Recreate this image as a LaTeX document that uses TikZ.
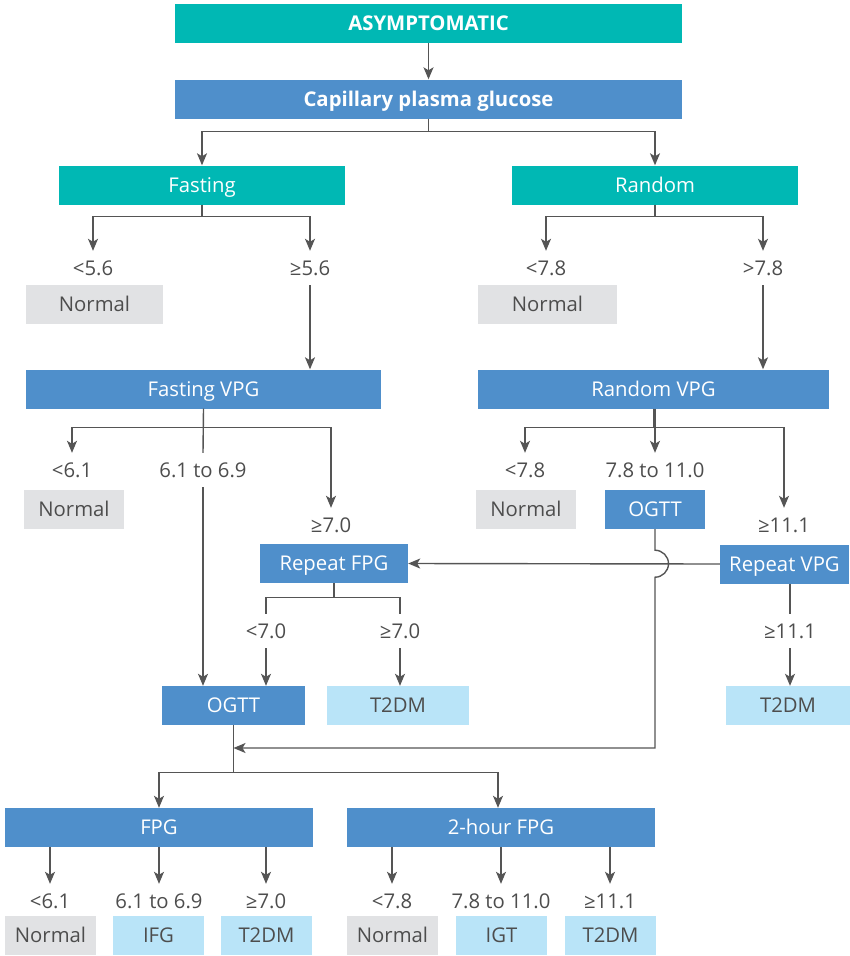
\documentclass[tikz,border=0pt]{standalone}
\usepackage{fontspec}
\setmainfont{Open Sans}
\usetikzlibrary{arrows.meta}
\definecolor{teal1}{HTML}{00B8B4}
\definecolor{blue1}{HTML}{4F8FCB}
\definecolor{grey1}{HTML}{E1E2E4}
\definecolor{lblue}{HTML}{B9E4F8}
\definecolor{txt}{HTML}{4D4D4D}
\definecolor{ln}{HTML}{555555}
\begin{document}
\begin{tikzpicture}[x=1pt,y=-1pt,
  every node/.style={font=\fontsize{20.3}{22}\selectfont, inner sep=0pt},
  boxbase/.style={rectangle, minimum height=39pt, text height=14.5pt, text depth=0pt},
  tealbox/.style={boxbase, fill=teal1, text=white},
  bluebox/.style={boxbase, fill=blue1, text=white},
  greybox/.style={boxbase, fill=grey1, text=txt},
  lbbox/.style={boxbase, fill=lblue, text=txt},
  lab/.style={minimum height=34pt, text height=14.5pt, text depth=0pt, text=txt},
  conn/.style={draw=ln, line width=1.4pt},
  arr/.style={conn, -{Stealth[length=12pt,width=10pt,inset=3pt]}}]
\useasboundingbox (0,0) rectangle (849,956);
% top
\node[tealbox, minimum width=507pt, font=\fontsize{20.3}{22}\selectfont\bfseries] (asym) at (428.5,23) {ASYMPTOMATIC};
\node[bluebox, minimum width=507pt, font=\fontsize{20.3}{22}\selectfont\bfseries] (cap) at (428.5,99) {Capillary plasma glucose};
\node[tealbox, minimum width=286pt] (fast) at (202,185) {Fasting};
\node[tealbox, minimum width=286pt] (rand) at (655,185) {Random};
% fasting branch
\node[lab] (l56) at (93,268) {<5.6};
\node[lab] (g56) at (310,268) {≥5.6};
\node[greybox, minimum width=137pt] (n1) at (94.5,304.5) {Normal};
\node[bluebox, minimum width=355pt] (fvpg) at (203.5,389) {Fasting VPG};
\node[lab] (l61) at (72,470) {<6.1};
\node[lab] (m61) at (203,470) {6.1 to 6.9};
\node[lab] (g70) at (331,525) {≥7.0};
\node[greybox, minimum width=100pt] (n3) at (74,509.5) {Normal};
\node[bluebox, minimum width=148pt] (rfpg) at (334,563.5) {Repeat FPG};
\node[lab] (rl70) at (266,631) {<7.0};
\node[lab] (rg70) at (400,631) {≥7.0};
\node[bluebox, minimum width=143pt] (ogttL) at (233.5,705.5) {OGTT};
\node[lbbox, minimum width=142pt] (t2a) at (398,705.5) {T2DM};
% random branch
\node[lab] (r78) at (546,268) {<7.8};
\node[lab] (g78) at (763,268) {>7.8};
\node[greybox, minimum width=139pt] (n2) at (547.5,304.5) {Normal};
\node[bluebox, minimum width=351pt] (rvpg) at (653.5,389) {Random VPG};
\node[lab] (rl78) at (525,470) {<7.8};
\node[lab] (rm78) at (655,470) {7.8 to 11.0};
\node[lab] (rg111) at (784,525) {≥11.1};
\node[greybox, minimum width=100pt] (n4) at (526,509.5) {Normal};
\node[bluebox, minimum width=100pt] (ogttR) at (655,509.5) {OGTT};
\node[bluebox, minimum width=129pt] (rvpgR) at (784.5,564) {Repeat VPG};
\node[lab] (rg111b) at (790,631) {≥11.1};
\node[lbbox, minimum width=124pt] (t2b) at (788,705.5) {T2DM};
% bottom
\node[bluebox, minimum width=308pt] (fpg) at (159,827.5) {FPG};
\node[bluebox, minimum width=308pt] (hfpg) at (501,827.5) {2-hour FPG};
\node[lab] (b1) at (50,901) {<6.1};
\node[lab] (b2) at (159,901) {6.1 to 6.9};
\node[lab] (b3) at (266,901) {≥7.0};
\node[lab] (b4) at (392,901) {<7.8};
\node[lab] (b5) at (501,901) {7.8 to 11.0};
\node[lab] (b6) at (610,901) {≥11.1};
\node[greybox, minimum width=91pt] (c1) at (50.5,935.5) {Normal};
\node[lbbox, minimum width=91pt] (c2) at (158.5,935.5) {IFG};
\node[lbbox, minimum width=91pt] (c3) at (266.5,935.5) {T2DM};
\node[greybox, minimum width=91pt] (c4) at (392.5,935.5) {Normal};
\node[lbbox, minimum width=91pt] (c5) at (501.5,935.5) {IGT};
\node[lbbox, minimum width=91pt] (c6) at (610.5,935.5) {T2DM};
\coordinate (merge) at (233.5,748);
% connectors
\draw[arr] (asym) -- (cap);
\draw[arr] (cap.south) -- ++(0,13) -| (fast.north);
\draw[arr] (cap.south) -- ++(0,13) -| (rand.north);
\draw[arr] (fast.south) -- ++(0,12) -| (l56.north);
\draw[arr] (fast.south) -- ++(0,12) -| (g56.north);
\draw[arr] (g56.south) -- (g56.south |- fvpg.north);
\draw[arr] (fvpg.south) -- ++(0,19) -| (l61.north);
\draw[arr] (fvpg.south) -- ++(0,19) -| (g70.north);
\draw[conn] (fvpg.south) -- (m61.north);
\draw[arr] (m61.south) -- (m61.south |- ogttL.north);
\draw[conn] (rfpg.south) -- ++(0,14) -| (rl70.north);
\draw[conn] (rfpg.south) -- ++(0,14) -| (rg70.north);
\draw[arr] (rl70.south) -- (rl70.south |- ogttL.north);
\draw[arr] (rg70.south) -- (rg70.south |- t2a.north);
\draw[arr] (rand.south) -- ++(0,12) -| (r78.north);
\draw[arr] (rand.south) -- ++(0,12) -| (g78.north);
\draw[arr] (g78.south) -- (g78.south |- rvpg.north);
\draw[arr] (rvpg.south) -- ++(0,19) -| (rl78.north);
\draw[arr] (rvpg.south) -- ++(0,19) -| (rg111.north);
\draw[arr] (rm78.north |- rvpg.south) -- (rm78.north);
\draw[arr] (rvpgR.west) -- (rfpg.east);
\draw[conn] ([xshift=5.5pt]rvpgR.south) -- (rg111b.north);
\draw[arr] (rg111b.south) -- (rg111b.south |- t2b.north);
\draw[arr] (ogttR.south) -- ++(0,21) arc[start angle=90, end angle=-90, radius=13.5pt] |- (merge);
\draw[arr] (ogttL.south) -- ++(0,47) -| (fpg.north);
\draw[arr] (ogttL.south) -- ++(0,47) -| ([xshift=-3pt]hfpg.north);
\foreach \b in {b1,b2,b3} \draw[arr] (\b.north |- fpg.south) -- (\b.north);
\foreach \b in {b4,b5,b6} \draw[arr] (\b.north |- hfpg.south) -- (\b.north);
\end{tikzpicture}
\end{document}
